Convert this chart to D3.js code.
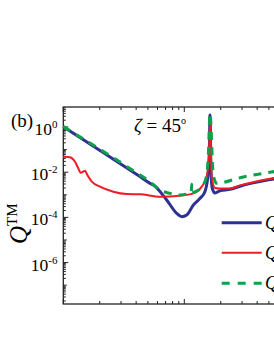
<!DOCTYPE html>
<html>
<head>
<meta charset="utf-8">
<script src="https://cdn.jsdelivr.net/npm/d3@7"></script>
<style>
body { margin: 0; background: #fff; }
svg { display: block; }
text { font-family: "Liberation Serif", "Times New Roman", serif; fill: #000; }
</style>
</head>
<body>
<svg class="chart" width="274" height="355"></svg>
<script>
// size parameter (x) and efficiencies
const scaX = [0.1, 0.204, 0.43, 0.521, 0.555, 0.715, 0.866, 0.952, 1.047, 1.187, 1.35, 1.48, 1.53, 1.58, 1.609, 1.631, 1.663, 1.704, 1.794, 1.97, 2.39, 2.89, 5.28, 7.5];
const scaQ = [1.03, 0.086, 6.4e-3, 3.2e-3, 2.7e-3, 5.9e-4, 1.5e-4, 1.07e-4, 1.28e-4, 3.5e-4, 7.0e-4, 1.37e-3, 2.7e-3, 0.0105, 0.081, 3.4, 0.0105, 1.9e-3, 1.2e-3, 1.5e-3, 1.75e-3, 2.4e-3, 4.85e-3, 6.7e-3];

const absX = [0.1, 0.1136, 0.125, 0.133, 0.139, 0.146, 0.151, 0.158, 0.172, 0.201, 0.259, 0.334, 0.43, 0.63, 0.921, 1.187, 1.393, 1.53, 1.6, 1.631, 1.684, 1.794, 1.97, 2.39, 2.89, 5.28, 7.5];
const absQ = [0.0485, 0.0457, 0.029, 0.0149, 9.5e-3, 0.0105, 0.0116, 7.5e-3, 3.8e-3, 2.3e-3, 1.37e-3, 1.08e-3, 1.05e-3, 8.2e-4, 9.1e-4, 1.16e-3, 2.3e-3, 6.3e-3, 0.058, 1.5, 6.3e-3, 2.0e-3, 1.9e-3, 1.9e-3, 2.6e-3, 5.3e-3, 7.4e-3];

const extX = [0.1, 0.43, 0.521, 0.63, 0.762, 0.921, 1.14, 1.151, 1.16, 1.266, 1.436, 1.53, 1.58, 1.631, 1.737, 1.853, 1.97, 2.89, 5.28, 7.5];
const extQ = [1.05, 7.5e-3, 3.8e-3, 1.63e-3, 1.16e-3, 9.8e-4, 1.2e-3, 2.9e-3, 1.25e-3, 1.47e-3, 2.7e-3, 7.5e-3, 0.058, 4.0, 7.5e-3, 3.2e-3, 3.3e-3, 5.7e-3, 0.0102, 0.0135];

const xDomain = [0.1, 10];
const yDomain = [1.47e-8, 7.67];
const yLabelExps = [0, -2, -4, -6];
const legendSubs = ['sca', 'abs', 'ext'];

const svgObj = d3.select('.chart');
const plotL = 63.3, plotR = 305.3, plotT = 107, plotB = 304;

const xScale = d3.scaleLog().domain(xDomain).range([plotL, plotR]);
const yScale = d3.scaleLog().domain(yDomain).range([plotB, plotT]);

const isDecade = v => Math.abs(Math.log10(v) - Math.round(Math.log10(v))) < 1e-9;

// frame
svgObj.append('rect')
	.attr('x', plotL).attr('y', plotT)
	.attr('width', plotR - plotL).attr('height', plotB - plotT)
	.attr('fill', 'none').attr('stroke', '#222').attr('stroke-width', 1.3);

// x ticks, inward on bottom and top
const xt = xScale.ticks();
const tickG = svgObj.append('g').attr('stroke', '#222').attr('stroke-width', 1);
xt.forEach(v => {
	const len = isDecade(v) ? 5 : 3;
	const px = xScale(v);
	tickG.append('line').attr('x1', px).attr('x2', px).attr('y1', plotB).attr('y2', plotB - len);
	tickG.append('line').attr('x1', px).attr('x2', px).attr('y1', plotT).attr('y2', plotT + len);
});

// y ticks, inward on left
const yt = yScale.ticks();
yt.forEach(v => {
	let len = 2.5;
	if (isDecade(v)) len = (Math.round(Math.log10(v)) % 2 === 0) ? 5 : 3.5;
	const py = yScale(v);
	tickG.append('line').attr('x1', plotL).attr('x2', plotL + len).attr('y1', py).attr('y2', py);
});

// y tick labels 10^n
yLabelExps.forEach(e => {
	const t = svgObj.append('text')
		.attr('x', 57.5).attr('y', yScale(Math.pow(10, e)) + 8)
		.attr('text-anchor', 'end')
		.style('font-size', '17.5px');
	t.append('tspan').text('10');
	t.append('tspan').attr('dy', -7).style('font-size', '11px').text(e === 0 ? '0' : '-' + (-e));
});

// curves
const line = d3.line()
	.x(d => xScale(d[0]))
	.y(d => yScale(d[1]))
	.curve(d3.curveMonotoneX);

const plot = svgObj.append('g');
plot.append('path')
	.attr('d', line(d3.zip(scaX, scaQ)))
	.attr('fill', 'none').attr('stroke', '#2e3192').attr('stroke-width', 3);
plot.append('path')
	.attr('d', line(d3.zip(absX, absQ)))
	.attr('fill', 'none').attr('stroke', '#ee1c25').attr('stroke-width', 2);
plot.append('path')
	.attr('d', line(d3.zip(extX, extQ)))
	.attr('fill', 'none').attr('stroke', '#0da14b').attr('stroke-width', 3)
	.attr('stroke-dasharray', '8,7');

// legend (cut by the right edge, as in the source)
const legendStyles = [
	{color: '#2e3192', w: 3, dash: null},
	{color: '#ee1c25', w: 2, dash: null},
	{color: '#0da14b', w: 3, dash: '8,8'}
];
const legendY = [222.7, 252.7, 283.3];
legendSubs.forEach((s, i) => {
	const st = legendStyles[i];
	svgObj.append('line')
		.attr('x1', 221.7).attr('x2', 261.7)
		.attr('y1', legendY[i]).attr('y2', legendY[i])
		.attr('stroke', st.color).attr('stroke-width', st.w)
		.attr('stroke-dasharray', st.dash);
	const t = svgObj.append('text')
		.attr('x', 265).attr('y', legendY[i] + 6)
		.style('font-size', '18px');
	t.append('tspan').style('font-style', 'italic').text('Q');
	t.append('tspan').attr('dy', 4).style('font-size', '12px').text(s);
});

// title and panel label
const title = svgObj.append('text').attr('x', 134).attr('y', 131.5).style('font-size', '19px');
title.append('tspan').style('font-style', 'italic').text('\u03b6');
title.append('tspan').text(' = 45');
title.append('tspan').attr('dy', -8).style('font-size', '10px').text('o');

svgObj.append('text').attr('x', 11).attr('y', 127).style('font-size', '19px').text('(b)');

// y axis title
const yTitle = svgObj.append('text')
	.attr('transform', 'translate(27,244) rotate(-90)')
	.style('font-size', '25px');
yTitle.append('tspan').style('font-style', 'italic').text('Q');
yTitle.append('tspan').attr('dy', -10).style('font-size', '15px').text('TM');
</script>
</body>
</html>
